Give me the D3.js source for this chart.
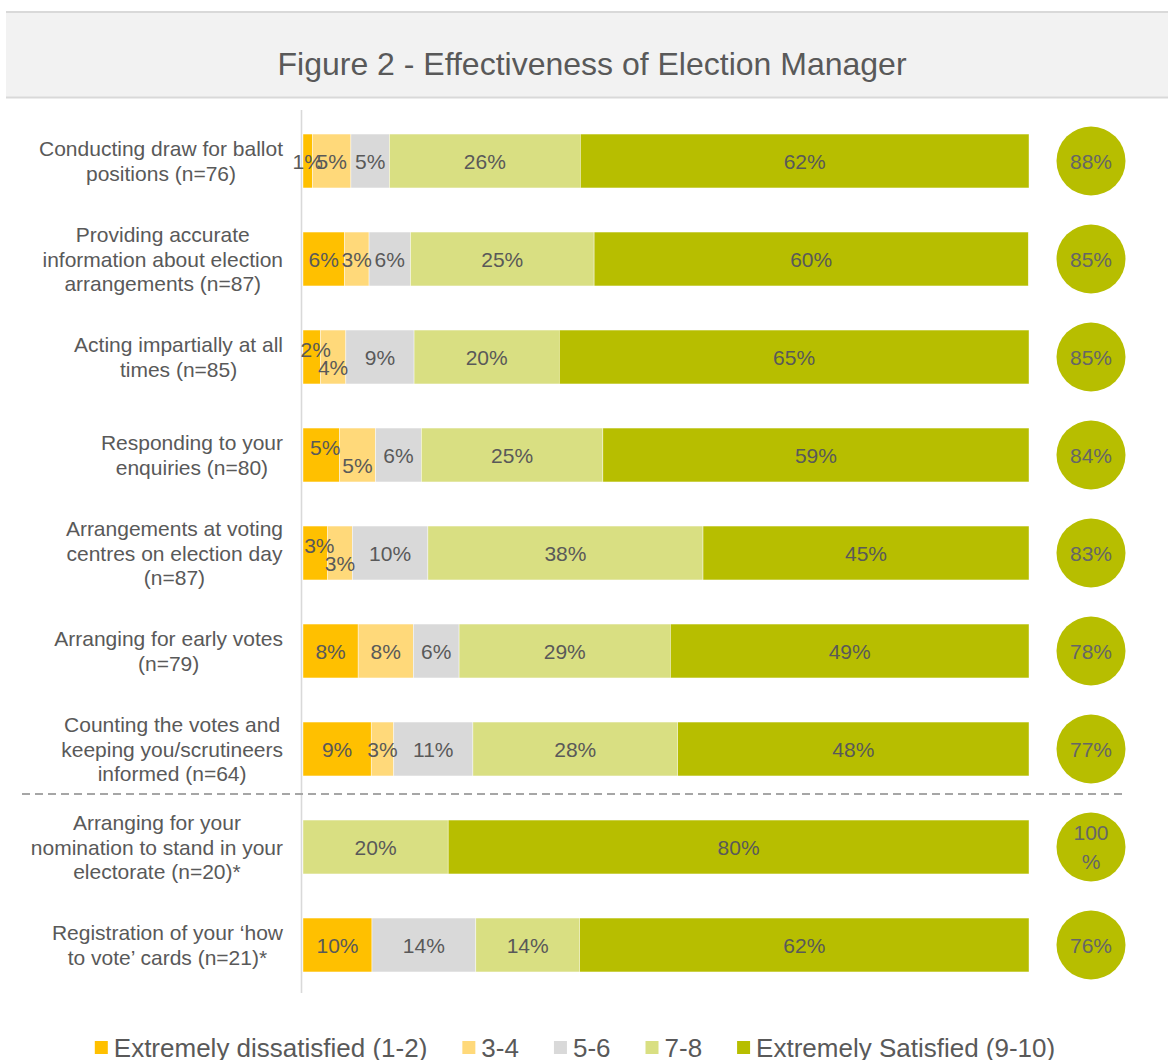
<!DOCTYPE html>
<html>
<head>
<meta charset="utf-8">
<script src="https://cdn.jsdelivr.net/npm/d3@7"></script>
<style>
  html, body { margin: 0; padding: 0; background: #fff; }
  svg { display: block; font-family: "Liberation Sans", Arial, sans-serif; }
</style>
</head>
<body>
<svg id="chart" width="1168" height="1060"></svg>
<script>
// ---------------- data ----------------
const title = "Figure 2 - Effectiveness of Election Manager";

const categories = [
  "Conducting draw for ballot\npositions (n=76)",
  "Providing accurate\ninformation about election\narrangements (n=87)",
  "Acting impartially at all\ntimes (n=85)",
  "Responding to your\nenquiries (n=80)",
  "Arrangements at voting\ncentres on election day\n(n=87)",
  "Arranging for early votes\n(n=79)",
  "Counting the votes and\nkeeping you/scrutineers\ninformed (n=64)",
  "Arranging for your\nnomination to stand in your\nelectorate (n=20)*",
  "Registration of your \u2018how\nto vote\u2019 cards (n=21)*"
];

const seriesNames = ["Extremely dissatisfied (1-2)", "3-4", "5-6", "7-8", "Extremely Satisfied (9-10)"];
const seriesColors = ["#FFC000", "#FFD97A", "#D9D9D9", "#D9DF82", "#B7BE00"];

const dissatisfied12 = [1.3, 5.7, 2.4, 5.0, 3.4, 7.6, 9.4, 0, 9.5];
const score34        = [5.3, 3.4, 3.5, 5.0, 3.4, 7.6, 3.1, 0, 0];
const score56        = [5.3, 5.7, 9.4, 6.3, 10.4, 6.3, 10.9, 0, 14.3];
const score78        = [26.3, 25.3, 20.0, 25.0, 37.9, 29.1, 28.2, 20.0, 14.3];
const satisfied910   = [61.8, 59.8, 64.7, 58.7, 44.9, 49.4, 48.4, 80.0, 61.9];

const topBoxTotals = [88, 85, 85, 84, 83, 78, 77, 100, 76];

const separatorAfterIndex = 6; // dashed line drawn after the 7th category

// ---------------- layout ----------------
const svg = d3.select("#chart");
const textColor = "#595959";

// title band
svg.append("rect").attr("x", 6).attr("y", 12).attr("width", 1162).attr("height", 85).attr("fill", "#F2F2F2");
svg.append("line").attr("x1", 6).attr("x2", 1168).attr("y1", 12).attr("y2", 12).attr("stroke", "#D9D9D9").attr("stroke-width", 2);
svg.append("line").attr("x1", 6).attr("x2", 1168).attr("y1", 97.5).attr("y2", 97.5).attr("stroke", "#D9D9D9").attr("stroke-width", 2);
svg.append("text").attr("x", 592).attr("y", 75).attr("text-anchor", "middle")
  .attr("font-size", 32).attr("fill", textColor).text(title);

const x = d3.scaleLinear().domain([0, 100]).range([303, 1029]);
const y = d3.scaleBand().domain(d3.range(categories.length)).range([112, 994])
  .paddingInner(0.45).paddingOuter(0.225);

const seriesArrays = [dissatisfied12, score34, score56, score78, satisfied910];
const rows = categories.map((c, i) => {
  const o = { i };
  seriesNames.forEach((s, k) => o[s] = seriesArrays[k][i]);
  return o;
});
const stacked = d3.stack().keys(seriesNames)(rows);

// axis line
svg.append("line").attr("x1", 301.5).attr("x2", 301.5).attr("y1", 110).attr("y2", 993)
  .attr("stroke", "#D9D9D9").attr("stroke-width", 1.6);

// bars
const layers = svg.append("g").selectAll("g").data(stacked).join("g")
  .attr("fill", (d, k) => seriesColors[k]);
layers.selectAll("rect").data(d => d.filter(p => p[1] - p[0] > 0)).join("rect")
  .attr("x", p => x(p[0]))
  .attr("width", p => x(p[1]) - x(p[0]))
  .attr("y", p => y(p.data.i))
  .attr("height", y.bandwidth())
  .attr("stroke", "#ffffff").attr("stroke-width", 0.6).attr("stroke-opacity", 0.7);

// labels
const labelG = svg.append("g").attr("font-size", 21).attr("fill", textColor).attr("text-anchor", "middle");
categories.forEach((c, i) => {
  const segs = stacked.map(layer => layer[i]);
  const w0 = x(segs[0][1]) - x(segs[0][0]);
  const w1 = x(segs[1][1]) - x(segs[1][0]);
  const crowded = w0 > 0 && w1 > 0 && w0 < 37 && w1 < 37;
  segs.forEach((p, k) => {
    const v = p[1] - p[0];
    if (v <= 0) return;
    let dy = 0, dx = 0;
    if (crowded && k === 0) { dy = -8; dx = 4; }
    if (crowded && k === 1) { dy = 10; }
    labelG.append("text")
      .attr("x", (x(p[0]) + x(p[1])) / 2 + dx)
      .attr("y", y(i) + y.bandwidth() / 2 + dy)
      .attr("dy", "0.36em")
      .text(Math.round(v) + "%");
  });
});

// category labels (lines centred inside block, block right-aligned)
const catG = svg.append("g").attr("font-size", 21).attr("fill", textColor);
const lineH = 24.5;
categories.forEach((c, i) => {
  const lines = c.split("\n");
  const g = catG.append("g");
  const texts = lines.map((ln, j) => g.append("text")
    .attr("y", y(i) + y.bandwidth() / 2 + (j - (lines.length - 1) / 2) * lineH)
    .attr("dy", "0.36em").attr("text-anchor", "middle").text(ln));
  const maxW = d3.max(texts, t => t.node().getComputedTextLength());
  texts.forEach(t => t.attr("x", 283 - maxW / 2));
});

// separator
const sepY = y(separatorAfterIndex + 1) - (y.step() - y.bandwidth()) / 2 - 4;
svg.append("line").attr("x1", 22).attr("x2", 1126).attr("y1", sepY).attr("y2", sepY)
  .attr("stroke", "#A6A6A6").attr("stroke-width", 2).attr("stroke-dasharray", "8,5");

// circles with top-box totals
const circG = svg.append("g");
topBoxTotals.forEach((v, i) => {
  const cy = y(i) + y.bandwidth() / 2;
  circG.append("circle").attr("cx", 1091).attr("cy", cy).attr("r", 34.5).attr("fill", seriesColors[4]);
  const label = v + "%";
  if (label.length > 3) {
    const parts = [label.slice(0, -1), "%"];
    parts.forEach((pt, j) => circG.append("text").attr("x", 1091).attr("y", cy + (j - 0.5) * 29)
      .attr("dy", "0.36em").attr("text-anchor", "middle").attr("font-size", 21).attr("fill", "#666666").text(pt));
  } else {
    circG.append("text").attr("x", 1091).attr("y", cy).attr("dy", "0.36em")
      .attr("text-anchor", "middle").attr("font-size", 21).attr("fill", "#666666").text(label);
  }
});

// legend
const legG = svg.append("g");
const legendItems = [];
seriesNames.forEach((s, k) => {
  const it = legG.append("g");
  it.append("rect").attr("x", 0).attr("y", -16).attr("width", 13).attr("height", 13).attr("fill", seriesColors[k]);
  const t = it.append("text").attr("x", 19).attr("y", 0).attr("font-size", 26).attr("fill", textColor).text(s);
  const w = 19 + t.node().getComputedTextLength();
  legendItems.push({ it, w });
});
const gap = 35;
const totalW = d3.sum(legendItems, d => d.w) + gap * (legendItems.length - 1);
let lx = 575 - totalW / 2;
legendItems.forEach(d => { d.it.attr("transform", `translate(${lx},1057)`); lx += d.w + gap; });
</script>
</body>
</html>
